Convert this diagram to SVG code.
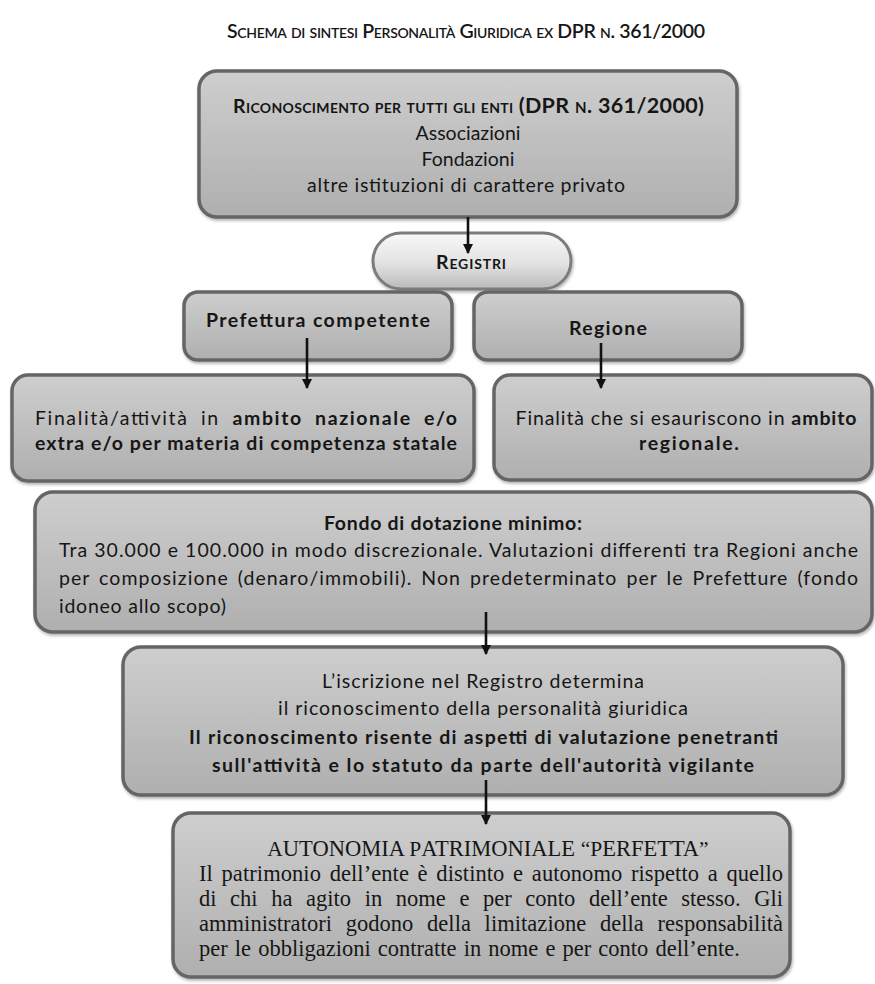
<svg xmlns="http://www.w3.org/2000/svg" width="875" height="984" viewBox="0 0 875 984">
<defs>
<linearGradient id="gBox" x1="0" y1="0" x2="0" y2="1">
<stop offset="0" stop-color="#cecece"/>
<stop offset="1" stop-color="#afafaf"/>
</linearGradient>
<linearGradient id="gPill" x1="0" y1="0" x2="0" y2="1">
<stop offset="0" stop-color="#f8f8f8"/>
<stop offset="0.55" stop-color="#e2e2e2"/>
<stop offset="1" stop-color="#bababa"/>
</linearGradient>
<filter id="sh" x="-5%" y="-10%" width="112%" height="130%">
<feDropShadow dx="1" dy="2" stdDeviation="1.6" flood-color="#000" flood-opacity="0.3"/>
</filter>
<marker id="ah" viewBox="0 0 10 10" refX="9" refY="5" markerWidth="4" markerHeight="4" orient="auto" markerUnits="strokeWidth">
<path d="M0,0 L10,5 L0,10 z" fill="#111"/>
</marker>
</defs>
<style>
.box{fill:url(#gBox);stroke:#656565;stroke-width:3.5;filter:url(#sh)}
.pill{fill:url(#gPill);stroke:#7c7c7c;stroke-width:3;filter:url(#sh)}
.t{font-family:Lato,'Open Sans',sans-serif;font-size:19.5px;fill:#161616}
.b{font-weight:bold}
.c{text-anchor:middle}
.sc{font-variant:small-caps}
.s{font-family:'Liberation Serif','DejaVu Serif',serif;font-size:22.5px;fill:#161616}
.arr{stroke:#111;stroke-width:2.6;fill:none;marker-end:url(#ah)}
</style>

<text class="t c sc" x="466" y="38" font-size="17" font-weight="600" textLength="478">Schema di sintesi Personalità Giuridica ex DPR n. 361/2000</text>

<g id="riconoscimento">
<rect class="box" x="199" y="71" width="538" height="146" rx="18"/>
<text class="t b c sc" x="468.5" y="113" textLength="471"><tspan>Riconoscimento per tutti gli enti </tspan><tspan font-size="21.5">(DPR n. 361/2000)</tspan></text>
<text class="t c" x="468" y="140">Associazioni</text>
<text class="t c" x="468" y="166">Fondazioni</text>
<text class="t c" x="466" y="192" textLength="318">altre istituzioni di carattere privato</text>
</g>

<g id="registri">
<rect class="pill" x="373" y="233" width="198" height="56" rx="28"/>
<text class="t b c sc" x="471" y="269" font-size="18" textLength="70">Registri</text>
</g>

<g id="prefettura">
<rect class="box" x="184" y="292" width="268" height="68" rx="14"/>
<text class="t b c" x="318" y="327" textLength="224">Prefettura competente</text>
</g>

<g id="regione">
<rect class="box" x="474" y="292" width="268" height="68" rx="14"/>
<text class="t b c" x="608" y="335" textLength="78">Regione</text>
</g>

<g id="ambito-nazionale">
<rect class="box" x="12" y="375" width="462" height="106" rx="16"/>
<text class="t" x="35" y="425" textLength="422" word-spacing="6">Finalità/attività in <tspan class="b">ambito nazionale e/o</tspan></text>
<text class="t b" x="35" y="450" textLength="422">extra e/o per materia di competenza statale</text>
</g>

<g id="ambito-regionale">
<rect class="box" x="494" y="375" width="378" height="105" rx="16"/>
<text class="t c" x="686" y="425" textLength="341">Finalità che si esauriscono in <tspan class="b">ambito</tspan></text>
<text class="t b c" x="689" y="450" textLength="100">regionale.</text>
</g>

<g id="fondo">
<rect class="box" x="35" y="492" width="837" height="140" rx="18"/>
<text class="t b c" x="453" y="530" textLength="258">Fondo di dotazione minimo:</text>
<text class="t" x="59" y="557" textLength="799">Tra 30.000 e 100.000 in modo discrezionale. Valutazioni differenti tra Regioni anche</text>
<text class="t" x="59" y="585" textLength="799" word-spacing="3">per composizione (denaro/immobili). Non predeterminato per le Prefetture (fondo</text>
<text class="t" x="59" y="613" textLength="167">idoneo allo scopo)</text>
</g>

<g id="iscrizione">
<rect class="box" x="123" y="647" width="720" height="148" rx="18"/>
<text class="t c" x="483" y="688" textLength="322">L’iscrizione nel Registro determina</text>
<text class="t c" x="483" y="715" textLength="410">il riconoscimento della personalità giuridica</text>
<text class="t b c" x="483.5" y="744" textLength="589">Il riconoscimento risente di aspetti di valutazione penetranti</text>
<text class="t b c" x="483" y="772" textLength="542">sull'attività e lo statuto da parte dell'autorità vigilante</text>
</g>

<g id="autonomia">
<rect class="box" x="173" y="813" width="617" height="164" rx="18"/>
<text class="s c" x="488" y="856" font-size="17.5"><tspan font-size="21.5">A</tspan>UTONOMIA <tspan font-size="21.5">P</tspan>ATRIMONIALE <tspan font-size="21.5">“P</tspan>ERFETTA<tspan font-size="21.5">”</tspan></text>
<text class="s" x="199" y="881" word-spacing="3" textLength="584">Il patrimonio dell’ente è distinto e autonomo rispetto a quello</text>
<text class="s" x="199" y="906" word-spacing="8" textLength="584">di chi ha agito in nome e per conto dell’ente stesso. Gli</text>
<text class="s" x="199" y="931" word-spacing="8" textLength="584">amministratori godono della limitazione della responsabilità</text>
<text class="s" x="199" y="956" word-spacing="1.5">per le obbligazioni  contratte in nome e per conto dell’ente.</text>
</g>

<g id="connectors">
<path class="arr" d="M468,217 V253"/>
<path class="arr" d="M307,338 V388"/>
<path class="arr" d="M601,343 V388"/>
<path class="arr" d="M486,612 V654"/>
<path class="arr" d="M486,780 V824"/>
</g>
</svg>
